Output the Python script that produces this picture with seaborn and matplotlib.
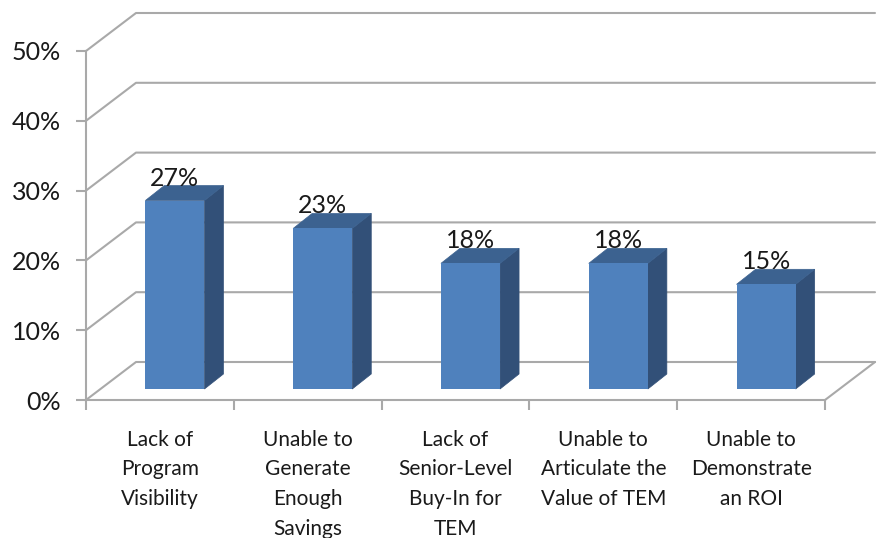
import matplotlib
matplotlib.use("Agg")
import matplotlib.pyplot as plt
import seaborn as sns
from matplotlib.transforms import Affine2D

categories = [
    "Lack of\nProgram\nVisibility",
    "Unable to\nGenerate\nEnough\nSavings",
    "Lack of\nSenior-Level\nBuy-In for\nTEM",
    "Unable to\nArticulate the\nValue of TEM",
    "Unable to\nDemonstrate\nan ROI",
]
values = [27, 23, 18, 18, 15]
y_ticks = [0, 10, 20, 30, 40, 50]

W, H = 877, 538
LEFT, RIGHT, TOP, BOTTOM = 86, 825, 51, 400
GRAY = "#a9a9a9"

sns.set_style("white")
plt.rcParams["font.family"] = ["Lato", "DejaVu Sans"]

fig = plt.figure(figsize=(W / 100, H / 100), dpi=100)
ax = fig.add_axes([LEFT / W, 1 - BOTTOM / H, (RIGHT - LEFT) / W, (BOTTOM - TOP) / H])

sns.barplot(x=categories, y=values, color="#4f81bd", saturation=1, width=0.4,
            linewidth=0, ax=ax, zorder=5)
ax.set_xlim(-0.5, 4.5)
ax.set_ylim(0, 50)

# pixels -> data units
ux = 5 / (RIGHT - LEFT)
uy = 50 / (BOTTOM - TOP)

# -----------------------------
# Walls and floor
# -----------------------------
back_x, back_y = 50 * ux, 38 * uy
for v in y_ticks:
    ax.plot([-0.5, -0.5 + back_x, 4.5 + back_x], [v, v + back_y, v + back_y],
            color=GRAY, lw=1.5, clip_on=False, zorder=1)
ax.plot([4.5, 4.5 + back_x], [0, back_y], color=GRAY, lw=1.5, clip_on=False, zorder=1)

# -----------------------------
# Bars moved off the front plane, with side and top faces
# -----------------------------
shift_x, shift_y = 15, 11
depth_x, depth_y = 19 * ux, 15 * uy
shift = Affine2D().translate(shift_x, shift_y)

for bar, value in zip(ax.patches, values):
    bar.set_transform(ax.transData + shift)
    bar.set_clip_on(False)
    x0 = bar.get_x()
    x1 = x0 + bar.get_width()
    ax.fill([x1, x1 + depth_x, x1 + depth_x, x1],
            [0, depth_y, value + depth_y, value],
            color="#325078", lw=0.5, clip_on=False, zorder=4,
            transform=ax.transData + shift)
    ax.fill([x0, x1, x1 + depth_x, x0 + depth_x],
            [value, value, value + depth_y, value + depth_y],
            color="#3c6290", lw=0.5, clip_on=False, zorder=4,
            transform=ax.transData + shift)
    ax.annotate(f"{value}%", (x0 + bar.get_width() / 2, value),
                xytext=(shift_x, shift_y + 15), textcoords="offset pixels",
                ha="center", va="baseline", fontsize=18, color="#1a1a1a", zorder=6)

# -----------------------------
# Axes
# -----------------------------
sns.despine(ax=ax)
for side in ("left", "bottom"):
    ax.spines[side].set_color(GRAY)
    ax.spines[side].set_linewidth(1.5)

ax.set_yticks(y_ticks)
ax.set_yticklabels([f"{v}%" for v in y_ticks], fontsize=18, color="#1a1a1a")
ax.tick_params(axis="y", left=True, length=7, width=1.5, color=GRAY, pad=11)

ax.set_xticks(range(len(categories)))
ax.set_xticklabels(categories, fontsize=15, color="#1a1a1a", linespacing=1.6)
ax.set_xticks([i - 0.5 for i in range(len(categories) + 1)], minor=True)
ax.tick_params(axis="x", which="major", bottom=False, pad=18)
ax.tick_params(axis="x", which="minor", bottom=True, length=7, width=1.5, color=GRAY)

fig.savefig("out.png", dpi=100)
